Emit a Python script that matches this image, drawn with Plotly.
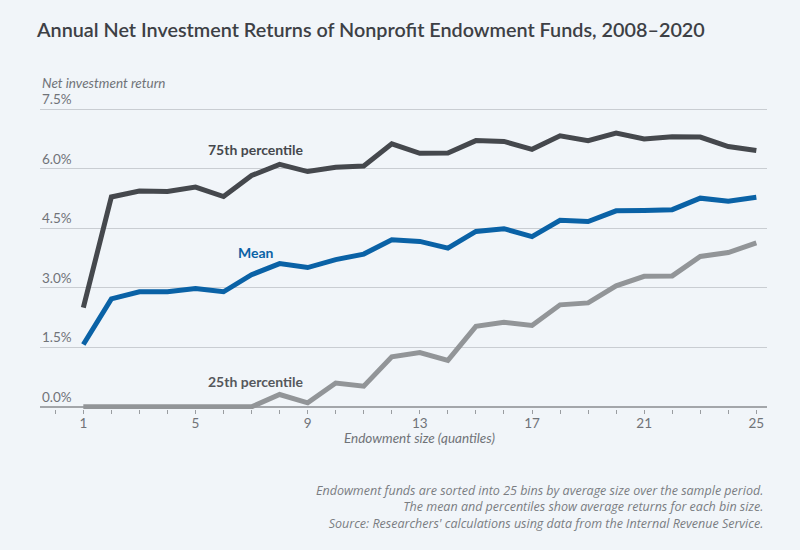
import plotly.graph_objects as go

bins = list(range(1, 26))
p75 = [2.50, 5.29, 5.44, 5.43, 5.54, 5.30, 5.83, 6.11, 5.93, 6.04, 6.07, 6.63, 6.39,
       6.40, 6.71, 6.69, 6.49, 6.83, 6.71, 6.90, 6.75, 6.81, 6.80, 6.56, 6.46]
mean = [1.57, 2.72, 2.90, 2.90, 2.98, 2.90, 3.33, 3.61, 3.51, 3.71, 3.85, 4.21, 4.17,
        4.00, 4.42, 4.49, 4.29, 4.70, 4.67, 4.94, 4.95, 4.97, 5.26, 5.18, 5.28]
p25 = [0.0, 0.0, 0.0, 0.0, 0.0, 0.0, 0.0, 0.31, 0.10, 0.60, 0.52, 1.26, 1.37,
       1.17, 2.03, 2.13, 2.05, 2.57, 2.62, 3.05, 3.29, 3.30, 3.79, 3.89, 4.13]

y_ticks = [0.0, 1.5, 3.0, 4.5, 6.0, 7.5]
y_tick_labels = ["0.0%", "1.5%", "3.0%", "4.5%", "6.0%", "7.5%"]
x_ticks = [1, 5, 9, 13, 17, 21, 25]

series_labels = [("75th percentile", 7.14, 6.49, "#45484d"),
                 ("Mean", 7.15, 3.89, "#0a62a6"),
                 ("25th percentile", 7.14, 0.64, "#55585c")]

BG = "#f1f5f9"
DARK = "#45484d"
BLUE = "#0a62a6"
LIGHT = "#929598"
TXT = "#707378"
FONT = "Source Sans Pro, Lato"

fig = go.Figure()
fig.add_trace(go.Scatter(x=bins, y=p25, mode="lines", line=dict(color=LIGHT, width=5),
                         hoverinfo="skip"))
fig.add_trace(go.Scatter(x=bins, y=mean, mode="lines", line=dict(color=BLUE, width=5),
                         hoverinfo="skip"))
fig.add_trace(go.Scatter(x=bins, y=p75, mode="lines", line=dict(color=DARK, width=5),
                         hoverinfo="skip"))

annotations = []
for v, lab in zip(y_ticks, y_tick_labels):
    annotations.append(dict(xref="paper", yref="y", x=0, y=v, text=lab, showarrow=False,
                            xanchor="left", yanchor="middle", yshift=10,
                            font=dict(family=FONT, size=13.5, color=TXT)))
annotations.append(dict(xref="paper", yref="paper", x=0, y=1, text="<i>Net investment return</i>",
                        showarrow=False, xanchor="left", yanchor="middle", yshift=17,
                        font=dict(family=FONT, size=13.5, color=TXT)))
for text, xv, yv, col in series_labels:
    annotations.append(dict(xref="x", yref="y", x=xv, y=yv, text="<b>" + text + "</b>",
                            showarrow=False, xanchor="center", yanchor="middle",
                            font=dict(family=FONT, size=14, color=col)))
annotations.append(dict(xref="x", yref="paper", x=13, y=0, yshift=-29,
                        text="<i>Endowment size (quantiles)</i>", showarrow=False,
                        xanchor="center", yanchor="middle",
                        font=dict(family=FONT, size=13.5, color=TXT)))
footnote = ("Endowment funds are sorted into 25 bins by average size over the sample period.<br>"
            "The mean and percentiles show average returns for each bin size.<br>"
            "Source: Researchers' calculations using data from the Internal Revenue Service.")
annotations.append(dict(xref="paper", yref="paper", x=1, y=0, text="<i>" + footnote + "</i>",
                        showarrow=False, xanchor="right", yanchor="top", align="right",
                        yshift=-71, xshift=-2,
                        font=dict(family="Open Sans", size=12.5, color="#7a7d82")))

fig.update_layout(
    width=800, height=550,
    paper_bgcolor=BG, plot_bgcolor=BG,
    margin=dict(l=40, r=33, t=100, b=140.5),
    showlegend=False,
    hovermode=False,
    title=dict(text="Annual Net Investment Returns of Nonprofit Endowment Funds, 2008\u20132020",
               x=37 / 800, xanchor="left", y=1 - 30 / 550, yanchor="middle",
               font=dict(family=FONT, size=19.8, color="#3d4045", weight=600)),
    annotations=annotations,
)
fig.update_xaxes(range=[-0.545, 25.38], tickvals=x_ticks, ticks="outside", ticklen=4,
                 tickcolor="#9a9da1", showgrid=False, zeroline=False, showline=False,
                 ticklabelstandoff=-2,
                 tickfont=dict(family=FONT, size=13.5, color=TXT),
                 minor=dict(ticks="outside", dtick=1, tick0=1, ticklen=4, tickcolor="#9a9da1"))
fig.update_yaxes(range=[-0.055, 7.734], tickvals=y_ticks[1:], showticklabels=False,
                 showgrid=True, gridcolor="#c9cdd2", gridwidth=1,
                 zeroline=True, zerolinecolor="#a3a6aa", zerolinewidth=1.5)

fig.write_html("out.html", config={"displayModeBar": False},
               post_script="document.body.style.margin='0';")
